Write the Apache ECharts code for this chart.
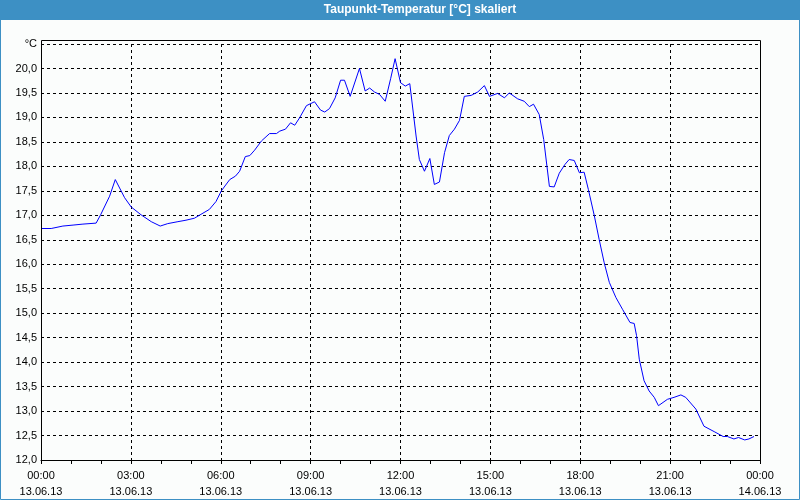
<!DOCTYPE html>
<html>
<head>
<meta charset="utf-8">
<script src="https://cdn.jsdelivr.net/npm/echarts@6/dist/echarts.min.js"></script>
<style>
html,body{margin:0;padding:0;background:#fbfdfc;}
#chart{width:800px;height:500px;}
</style>
</head>
<body>
<div id="chart"></div>
<script>
// time in hours since 13.06.13 00:00
var hours = [0.0,0.34,0.73,1.07,1.4,1.84,1.99,2.29,2.48,2.79,3.01,3.34,3.68,3.98,4.23,4.57,4.84,5.12,5.34,5.62,5.84,
  6.02,6.3,6.49,6.63,6.82,6.97,7.13,7.36,7.63,7.86,7.97,8.16,8.33,8.47,8.63,8.86,9.13,9.33,9.47,9.63,9.82,10.0,10.13,
  10.32,10.63,10.82,10.97,11.13,11.3,11.49,11.67,11.82,12.0,12.16,12.31,12.52,12.63,12.8,12.98,13.13,13.3,13.47,13.63,
  13.8,13.97,14.13,14.36,14.58,14.8,14.97,15.24,15.47,15.63,15.91,16.13,16.3,16.44,16.63,16.78,16.97,17.13,17.3,17.49,
  17.63,17.8,17.97,18.13,18.27,18.47,18.63,18.8,18.97,19.19,19.41,19.66,19.8,19.88,19.97,20.13,20.3,20.47,20.61,20.91,
  21.13,21.36,21.52,21.86,22.13,22.47,22.77,22.91,23.13,23.28,23.49,23.63,23.8];
var dewpoint = [16.73,16.73,16.78,16.8,16.82,16.84,17.01,17.39,17.73,17.36,17.17,17.01,16.87,16.78,16.83,16.87,16.9,16.94,17.02,17.12,17.28,
  17.5,17.73,17.8,17.9,18.2,18.22,18.33,18.52,18.67,18.67,18.72,18.76,18.89,18.84,18.99,19.24,19.32,19.15,19.11,19.18,19.4,19.76,19.76,
  19.43,20.0,19.54,19.6,19.52,19.47,19.33,19.79,20.2,19.71,19.64,19.69,18.62,18.14,17.9,18.16,17.63,17.68,18.28,18.63,
  18.76,18.94,19.43,19.45,19.52,19.65,19.43,19.49,19.4,19.5,19.38,19.33,19.22,19.27,19.06,18.55,17.59,17.58,17.86,18.04,
  18.14,18.12,17.87,17.88,17.53,16.99,16.51,16.03,15.63,15.32,15.08,14.81,14.79,14.54,14.06,13.62,13.41,13.28,13.11,13.24,
  13.28,13.33,13.28,13.04,12.69,12.58,12.48,12.48,12.43,12.46,12.41,12.43,12.48];
var tickTimes = ['00:00','03:00','06:00','09:00','12:00','15:00','18:00','21:00','00:00'];
var tickDates = ['13.06.13','13.06.13','13.06.13','13.06.13','13.06.13','13.06.13','13.06.13','13.06.13','14.06.13'];
var titleText = 'Taupunkt-Temperatur [°C] skaliert';
var unitLabel = '°C';

var data = hours.map(function(h, i){ return [h, dewpoint[i]]; });
var chart = echarts.init(document.getElementById('chart'), null, {renderer:'canvas'});
var font = 'Liberation Sans';
chart.setOption({
  animation: false,
  backgroundColor: '#fbfdfc',
  grid: {left: 41, right: 40, top: 44, bottom: 39, containLabel: false},
  graphic: [
    {type:'rect', shape:{x:0,y:0,width:800,height:20}, style:{fill:'#3d90c4'}, z:10},
    {type:'rect', shape:{x:0.5,y:0.5,width:799,height:499}, style:{fill:null, stroke:'#3d90c4', lineWidth:1}, z:10},
    {type:'text', x:420, y:10, style:{text:titleText, fill:'#ffffff', font:'bold 12px "Liberation Sans"', align:'center', verticalAlign:'middle'}, z:11},
    {type:'rect', shape:{x:41.5,y:40.5,width:719,height:420}, style:{fill:null, stroke:'#000', lineWidth:1}, z:5}
  ],
  xAxis: {
    type: 'value', min: 0, max: 24, interval: 3,
    axisLine: {show: true, onZero:false, lineStyle: {color: '#000', width: 1}},
    axisTick: {show: true, length: 4, lineStyle: {color:'#000'}},
    minorTick: {show: true, splitNumber: 3, length: 4, lineStyle: {color:'#000'}},
    splitLine: {show: true, lineStyle: {color: '#000', type: [3,3], width: 1}},
    axisLabel: {
      color: '#000', fontFamily: font, fontSize: 11, lineHeight: 16, margin: 8,
      showMinLabel: true, showMaxLabel: true,
      formatter: function(v){ var i = Math.round(v/3); return tickTimes[i] + '\n' + tickDates[i]; }
    }
  },
  yAxis: {
    type: 'value', min: 12, max: 20.5, interval: 0.5,
    axisLine: {show: true, lineStyle: {color: '#000', width: 1}},
    axisTick: {show: false},
    splitLine: {show: true, lineStyle: {color: '#000', type: [3,3], width: 1}},
    axisLabel: {
      color: '#000', fontFamily: font, fontSize: 11, margin: 4,
      formatter: function(v){ if (v >= 20.5) return unitLabel; return v.toFixed(1).replace('.', ','); }
    }
  },
  series: [{
    type: 'line', data: data, showSymbol: false, symbol: 'none',
    lineStyle: {color: '#0000ff', width: 1}, itemStyle:{color:'#0000ff'}
  }]
});
</script>
</body>
</html>
